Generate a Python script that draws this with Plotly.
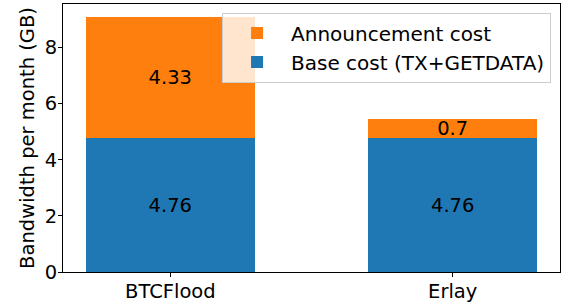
import plotly.graph_objects as go

categories = ["BTCFlood", "Erlay"]
base_cost = [4.76, 4.76]
announcement_cost = [4.33, 0.7]
base_labels = ["4.76", "4.76"]
announcement_labels = ["4.33", "0.7"]
y_ticks = [0, 2, 4, 6, 8]

FONT = "DejaVu Sans"
FS = 19.5
fig = go.Figure()
fig.add_trace(go.Bar(
    x=[0, 1], y=base_cost, name="Base cost (TX+GETDATA)",
    marker=dict(color="#1f77b4", line=dict(width=0)), width=0.6,
    text=base_labels, textposition="inside", insidetextanchor="middle",
    textfont=dict(family=FONT, size=FS, color="black"), textangle=0,
))
fig.add_trace(go.Bar(
    x=[0, 1], y=announcement_cost, name="Announcement cost",
    marker=dict(color="#ff7f0e", line=dict(width=0)), width=0.6,
    text=announcement_labels, textposition="inside", insidetextanchor="middle",
    textfont=dict(family=FONT, size=FS, color="black"), textangle=0,
))
fig.update_layout(
    barmode="stack",
    width=565, height=308,
    margin=dict(l=63, r=5, t=4, b=36),
    paper_bgcolor="white", plot_bgcolor="white",
    font=dict(family=FONT, size=FS, color="black"),
    showlegend=True,
    legend=dict(
        traceorder="reversed",
        x=0.982, y=0.968, xanchor="right", yanchor="top",
        bgcolor="rgba(255,255,255,0.8)", bordercolor="#cccccc", borderwidth=1,
        font=dict(family=FONT, size=20), tracegroupgap=0, itemwidth=58,
    ),
    uniformtext=dict(mode="show", minsize=FS),
)
fig.update_xaxes(
    range=[-0.38, 1.38], tickvals=[0, 1], ticktext=categories,
    showline=True, linecolor="black", linewidth=1, mirror=True,
    ticks="outside", ticklen=4, tickcolor="black", showgrid=False, zeroline=False,
    tickfont=dict(size=FS), automargin=False, ticklabelstandoff=-2,
)
fig.update_yaxes(
    range=[0, 9.55], tickvals=y_ticks,
    showline=True, linecolor="black", linewidth=1, mirror=True,
    ticks="outside", ticklen=4, tickcolor="black", showgrid=False, zeroline=False,
    title=dict(text="Bandwidth per month (GB)", font=dict(size=FS), standoff=4),
    tickfont=dict(size=FS), automargin=False, ticklabelstandoff=-3,
)
fig.write_html("out.html", config={"displayModeBar": False},
               post_script="document.body.style.margin='0';")
